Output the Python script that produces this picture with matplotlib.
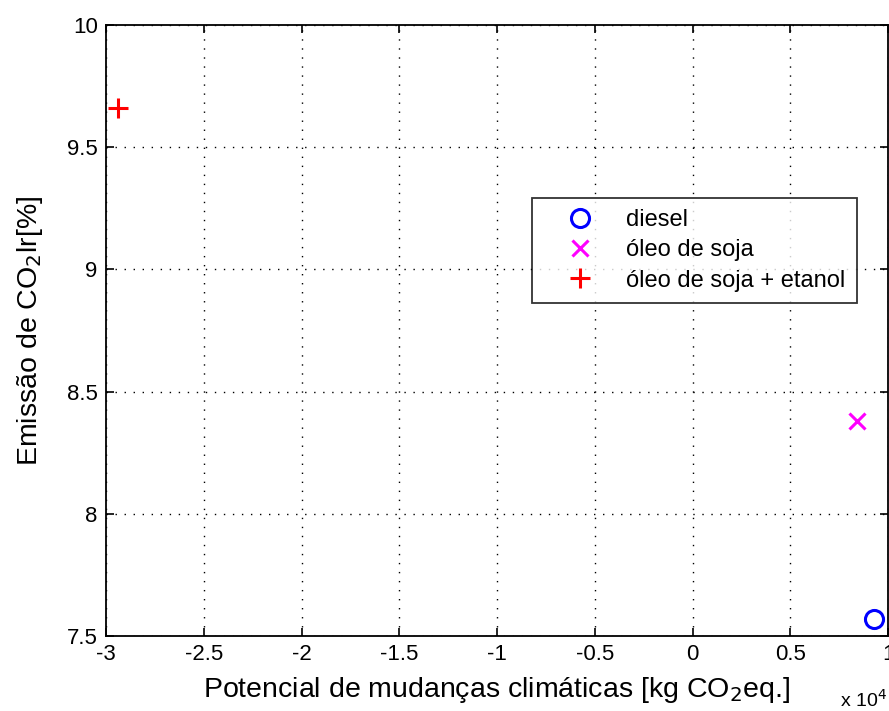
import matplotlib
matplotlib.use('Agg')
import matplotlib.pyplot as plt
from matplotlib.ticker import FuncFormatter

# values (x in kg CO2 eq., y in %)
labels = ['diesel', 'óleo de soja', 'óleo de soja + etanol']
pot_mudancas = [9280, 8400, -29400]
emissao_co2 = [7.57, 8.38, 9.66]
markers = ['o', 'x', '+']
colors = ['#0000ff', '#ff00ff', '#ff0000']
sizes = [13, 11, 15]

plt.rcParams['font.family'] = ['Liberation Sans', 'DejaVu Sans']

fig = plt.figure(figsize=(8.89, 7.11), dpi=100)
ax = fig.add_axes([106 / 889, 1 - 636 / 711, 782 / 889, 611 / 711])

for x, y, m, c, s, lab in zip(pot_mudancas, emissao_co2, markers, colors, sizes, labels):
    ax.plot(x, y, linestyle='none', marker=m, color=c, markersize=s,
            markerfacecolor='none', markeredgewidth=2.2, label=lab)

ax.set_xlim(-30000, 10000)
ax.set_ylim(7.5, 10)
ax.set_xticks([-30000, -25000, -20000, -15000, -10000, -5000, 0, 5000, 10000])
ax.set_yticks([7.5, 8, 8.5, 9, 9.5, 10])
ax.xaxis.set_major_formatter(FuncFormatter(lambda v, p: '%g' % (v / 1e4)))
ax.yaxis.set_major_formatter(FuncFormatter(lambda v, p: '%g' % v))

ax.grid(True, linestyle=(0, (1, 5.5)), color='black', linewidth=1.0)
ax.tick_params(direction='in', length=6, width=1.2, top=True, right=True,
               labelsize=16, pad=6)
for sp in ax.spines.values():
    sp.set_linewidth(1.3)

ax.set_xlabel('Potencial de mudanças climáticas [kg CO$_2$eq.]', fontsize=20.5, labelpad=7)
ax.set_ylabel('Emissão de CO$_2$lr[%]', fontsize=20.5, labelpad=16)
# MATLAB style exponent label at the bottom right corner
fig.text(887 / 889, 1 - 700 / 711, 'x 10$^4$', fontsize=14, ha='right', va='center')

leg = ax.legend(loc='upper left', bbox_to_anchor=(426 / 782, (636 - 198) / 611),
                borderaxespad=0, fontsize=17, frameon=True, fancybox=False,
                edgecolor='black', handlelength=3.1, handletextpad=0.42,
                borderpad=0.47, labelspacing=0.35)
leg.get_frame().set_linewidth(1.3)

plt.savefig('out.png', dpi=100)
